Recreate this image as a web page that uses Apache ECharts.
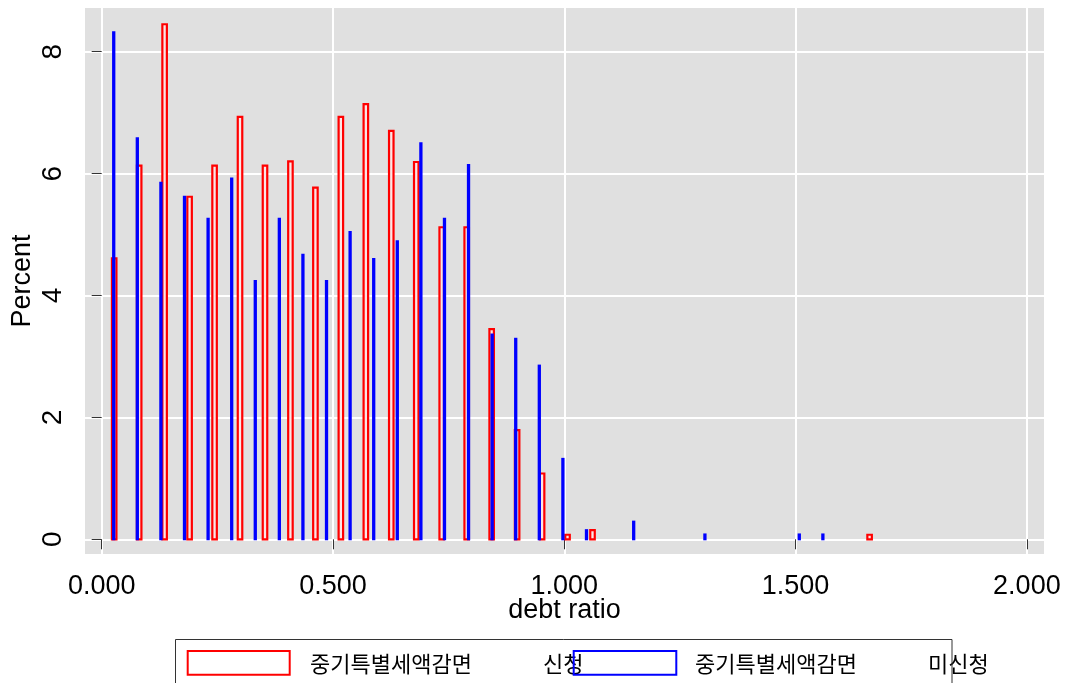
<!DOCTYPE html>
<html>
<head>
<meta charset="utf-8">
<title>debt ratio histogram</title>
<script src="https://cdn.jsdelivr.net/npm/echarts@6/dist/echarts.min.js"></script>
<style>
  html, body { margin: 0; padding: 0; background: #ffffff; }
  #chart { width: 1071px; height: 683px; }
</style>
</head>
<body>
<div id="chart"></div>
<script>
// Bin midpoints and percentages for the two groups
const appliedBinMid = [0.027, 0.081, 0.136, 0.190, 0.244, 0.299, 0.353, 0.408, 0.462, 0.517,
                       0.571, 0.626, 0.680, 0.735, 0.789, 0.843, 0.898, 0.952, 1.007, 1.061, 1.660];
const appliedPercent = [4.61, 6.13, 8.45, 5.62, 6.13, 6.93, 6.13, 6.20, 5.77, 6.93,
                        7.14, 6.70, 6.19, 5.12, 5.12, 3.45, 1.79, 1.08, 0.075, 0.15, 0.075];

const notAppliedBinMid = [0.026, 0.077, 0.128, 0.179, 0.230, 0.281, 0.332, 0.384, 0.435, 0.486,
                          0.537, 0.588, 0.639, 0.690, 0.741, 0.793, 0.844, 0.895, 0.946, 0.997,
                          1.048, 1.150, 1.304, 1.508, 1.559];
const notAppliedPercent = [8.32, 6.58, 5.85, 5.62, 5.26, 5.92, 4.24, 5.26, 4.67, 4.24,
                           5.04, 4.60, 4.89, 6.50, 5.26, 6.14, 3.36, 3.29, 2.85, 1.32,
                           0.15, 0.29, 0.08, 0.08, 0.08];

const xTicks = [0, 0.5, 1, 1.5, 2];
const yTicks = [0, 2, 4, 6, 8];

const legendLabels = ['중기특별세액감면', '신청', '중기특별세액감면', '미신청'];

const LATIN = '"Liberation Sans", Arial, sans-serif';
const HANGUL = '"Noto Sans CJK KR", sans-serif';

// Thin histogram bar centred on its bin midpoint, drawn through the axes' scales
function barRenderer(width, lineWidth, stroke, fill) {
  return function (params, api) {
    const top = api.coord([api.value(0), api.value(1)]);
    const base = api.coord([api.value(0), 0]);
    return {
      type: 'rect',
      shape: { x: top[0] - width / 2, y: top[1], width: width, height: base[1] - top[1] },
      style: { fill: fill, stroke: stroke, lineWidth: lineWidth }
    };
  };
}

const chart = echarts.init(document.getElementById('chart'), null, { renderer: 'canvas' });

chart.setOption({
  animation: false,
  backgroundColor: '#ffffff',
  grid: {
    left: 85, right: 27, top: 8, bottom: 129,
    outerBoundsMode: 'none',
    containLabel: false,
    show: true, backgroundColor: '#e0e0e0', borderWidth: 0
  },
  xAxis: {
    type: 'value',
    min: -0.0361, max: 2.037,
    offset: 3,
    axisLine: { show: false },
    axisTick: { show: true, customValues: xTicks, length: 10, lineStyle: { color: '#333', width: 1 } },
    axisLabel: {
      customValues: xTicks, margin: 16, fontSize: 27, color: '#000', fontFamily: LATIN,
      formatter: v => v.toFixed(3)
    },
    splitLine: { show: true, lineStyle: { color: '#ffffff', width: 2 } },
    name: 'debt ratio', nameLocation: 'middle', nameGap: 40, nameMoveOverlap: false,
    nameTextStyle: { fontSize: 27, color: '#000', fontFamily: LATIN }
  },
  yAxis: {
    type: 'value',
    min: -0.241, max: 8.717,
    offset: 2,
    axisLine: { show: false },
    axisTick: { show: true, customValues: yTicks, length: 10, lineStyle: { color: '#333', width: 1 } },
    axisLabel: {
      customValues: yTicks, rotate: 90, margin: 16, fontSize: 28, color: '#000', fontFamily: LATIN
    },
    splitLine: { show: true, lineStyle: { color: '#ffffff', width: 2 } },
    name: 'Percent', nameLocation: 'middle', nameGap: 47, nameRotate: 90, nameMoveOverlap: false,
    nameTextStyle: { fontSize: 27, color: '#000', fontFamily: LATIN }
  },
  series: [
    {
      name: legendLabels[1],
      type: 'custom',
      renderItem: barRenderer(4.5, 2.2, '#ff0000', '#fbe6e6'),
      data: appliedBinMid.map((x, i) => [x, appliedPercent[i]]),
      z: 2
    },
    {
      name: legendLabels[3],
      type: 'custom',
      renderItem: barRenderer(1.3, 2, '#0000ff', '#0000ff'),
      data: notAppliedBinMid.map((x, i) => [x, notAppliedPercent[i]]),
      z: 3
    }
  ],
  graphic: [
    // legend keys
    { type: 'rect', z: 10, shape: { x: 187.7, y: 651, width: 102, height: 23.7 },
      style: { fill: 'none', stroke: '#ff0000', lineWidth: 2 } },
    { type: 'rect', z: 10, shape: { x: 573.7, y: 651, width: 102.6, height: 23.7 },
      style: { fill: 'none', stroke: '#0000ff', lineWidth: 2 } },
    // legend labels
    { type: 'text', z: 9, x: 310, y: 664,
      style: { text: legendLabels[0], font: '22px ' + HANGUL, fill: '#000', verticalAlign: 'middle' } },
    { type: 'text', z: 9, x: 543, y: 664,
      style: { text: legendLabels[1], font: '22px ' + HANGUL, fill: '#000', verticalAlign: 'middle' } },
    { type: 'text', z: 9, x: 695, y: 664,
      style: { text: legendLabels[2], font: '22px ' + HANGUL, fill: '#000', verticalAlign: 'middle' } },
    { type: 'text', z: 9, x: 928, y: 664,
      style: { text: legendLabels[3], font: '22px ' + HANGUL, fill: '#000', verticalAlign: 'middle' } },
    // legend frame
    { type: 'rect', z: 11, shape: { x: 175.5, y: 639.5, width: 776.5, height: 60 },
      style: { fill: 'none', stroke: '#333', lineWidth: 1 } }
  ]
});
</script>
</body>
</html>
